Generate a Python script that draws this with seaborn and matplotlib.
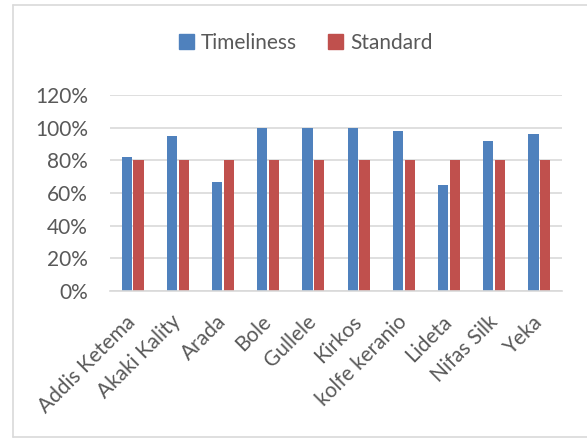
import matplotlib
matplotlib.use('Agg')
import matplotlib.pyplot as plt
import matplotlib.ticker as mticker
from matplotlib.patches import Rectangle
from matplotlib.lines import Line2D
import pandas as pd
import seaborn as sns

# data
subcities = ['Addis Ketema', 'Akaki Kality', 'Arada', 'Bole', 'Gullele',
             'Kirkos', 'kolfe keranio', 'Lideta', 'Nifas Silk', 'Yeka']
timeliness = [0.82, 0.95, 0.67, 1.00, 1.00, 1.00, 0.98, 0.65, 0.92, 0.96]
standard = [0.80, 0.80, 0.80, 0.80, 0.80, 0.80, 0.80, 0.80, 0.80, 0.80]
series_names = ['Timeliness', 'Standard']
colors = ['#4F81BD', '#C0504D']

df = pd.DataFrame({'subcity': subcities * 2,
                   'value': timeliness + standard,
                   'series': [series_names[0]] * len(subcities) + [series_names[1]] * len(subcities)})

sns.set_style('white')
plt.rcParams['font.family'] = ['Lato', 'DejaVu Sans']

fig = plt.figure(figsize=(5.87, 4.38), dpi=100)
ax = fig.add_axes([110 / 587, 1 - 291 / 438, 452 / 587, 196 / 438])

sns.barplot(data=df, x='subcity', y='value', hue='series', palette=colors,
            width=0.52, gap=0.12, saturation=1, linewidth=0, ax=ax, legend=False)

ax.set_ylim(0, 1.2)
ax.yaxis.set_major_locator(mticker.MultipleLocator(0.2))
ax.yaxis.set_major_formatter(mticker.PercentFormatter(1.0, decimals=0))
ax.grid(axis='y', color='#d9d9d9', linewidth=1.2)
ax.set_axisbelow(True)
for s in ['top', 'right', 'left']:
    ax.spines[s].set_visible(False)
ax.spines['bottom'].set_color('#d9d9d9')
ax.spines['bottom'].set_linewidth(1.2)
ax.set_xlabel('')
ax.set_ylabel('')
ax.tick_params(axis='both', length=0, labelsize=15, colors='#595959')
ax.tick_params(axis='y', pad=16)
ax.tick_params(axis='x', pad=20)
plt.setp(ax.get_xticklabels(), rotation=45, ha='right', va='center', rotation_mode='anchor')

handles = [Rectangle((0, 0), 1, 1, color=c) for c in colors]
fig.legend(handles, series_names, loc='center', bbox_to_anchor=(306 / 587, 1 - 43 / 438),
           ncol=2, frameon=False, fontsize=15, labelcolor='#595959',
           handlelength=0.7, handleheight=0.7, handletextpad=0.35, columnspacing=1.5)

# chart frame (left, top, bottom edges visible in the reference)
frame = dict(color='#d9d9d9', linewidth=1.2, transform=fig.transFigure)
fig.lines.append(Line2D([13 / 587, 13 / 587], [1 - 437 / 438, 1 - 5 / 438], **frame))
fig.lines.append(Line2D([13 / 587, 1], [1 - 5 / 438, 1 - 5 / 438], **frame))
fig.lines.append(Line2D([13 / 587, 1], [1 - 437 / 438, 1 - 437 / 438], **frame))

plt.savefig('out.png', dpi=100)
